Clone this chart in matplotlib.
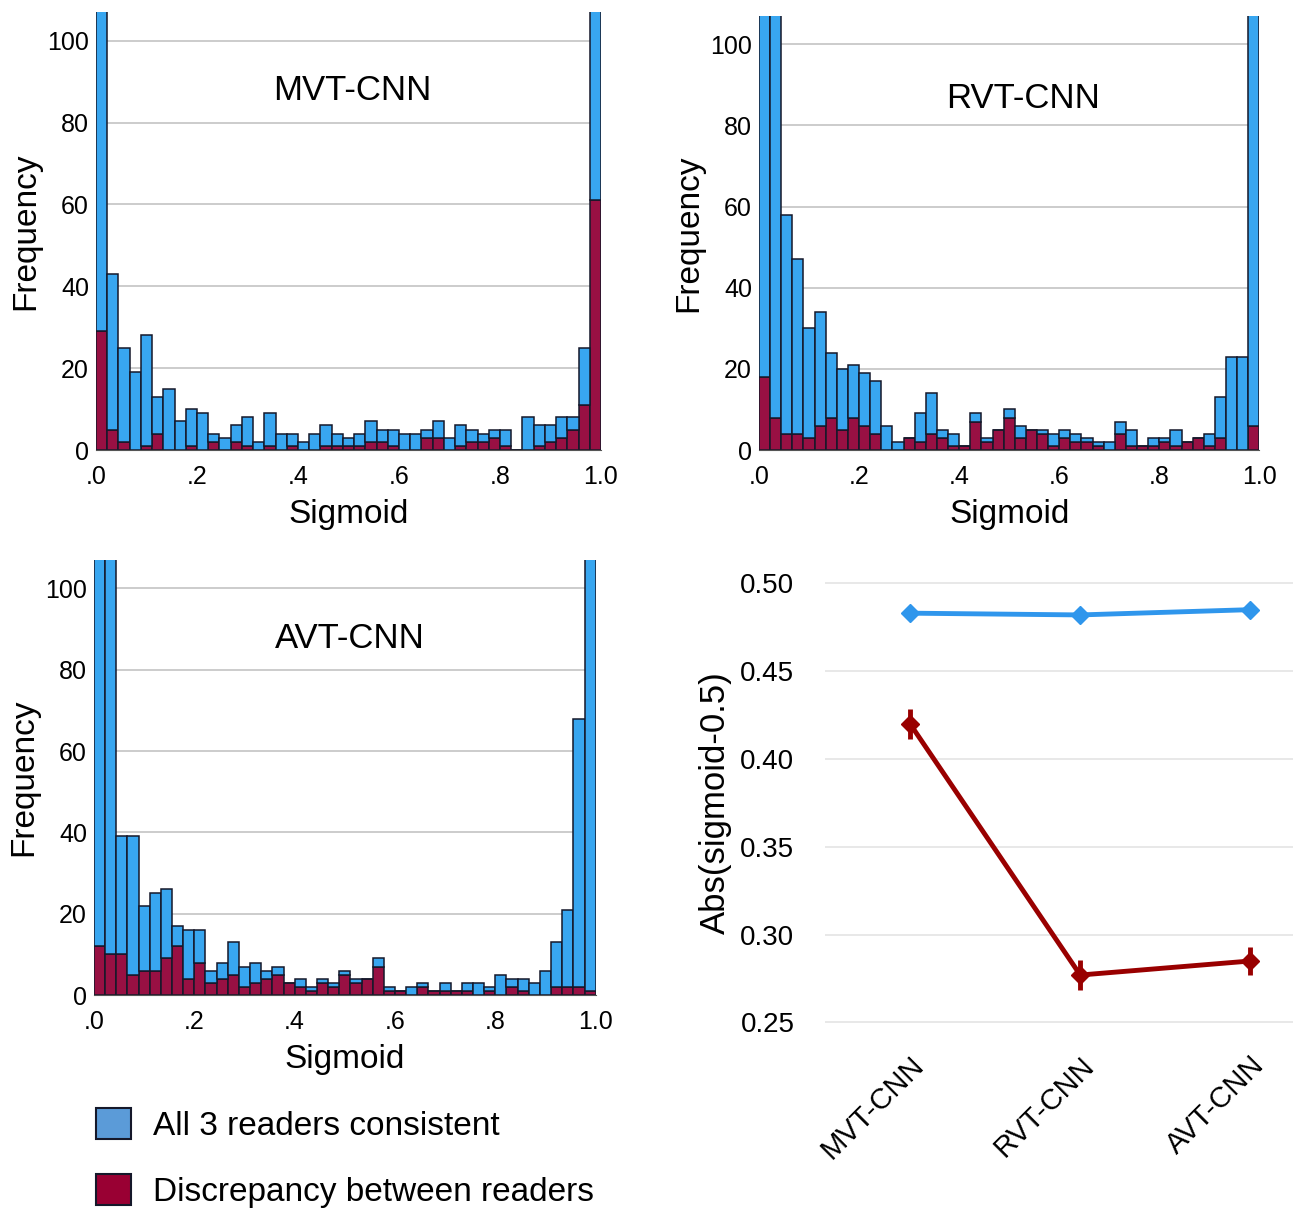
import numpy as np
import matplotlib
matplotlib.use("Agg")
import matplotlib.pyplot as plt
from matplotlib.patches import Patch

plt.rcParams['font.family'] = ['Liberation Sans', 'DejaVu Sans']

# histogram counts per bin (45 bins over 0..1): total height and discrepancy part
mvt_total = [150, 43, 25, 19, 28, 13, 15, 7, 10, 9,
             4, 3, 6, 8, 2, 9, 4, 4, 2, 4,
             6, 4, 3, 4, 7, 5, 5, 4, 4, 5,
             7, 3, 6, 5, 4, 5, 5, 0, 8, 6,
             6, 8, 8, 25, 200]
mvt_disc = [29, 5, 2, 0, 1, 4, 0, 0, 1, 0,
            2, 0, 2, 1, 0, 1, 0, 1, 0, 0,
            1, 1, 1, 1, 2, 2, 1, 0, 0, 3,
            3, 0, 1, 2, 2, 3, 1, 0, 0, 1,
            2, 3, 5, 11, 61]

rvt_total = [160, 120, 58, 47, 30, 34, 24, 20, 21, 19,
             17, 6, 2, 3, 9, 14, 5, 4, 1, 9,
             3, 5, 10, 6, 5, 5, 4, 5, 4, 3,
             2, 2, 7, 5, 1, 3, 3, 5, 2, 3,
             4, 13, 23, 23, 200]
rvt_disc = [18, 8, 4, 4, 3, 6, 8, 5, 8, 6,
            4, 0, 0, 3, 2, 4, 3, 1, 1, 7,
            2, 5, 8, 3, 5, 4, 1, 3, 2, 2,
            1, 0, 4, 1, 1, 1, 2, 1, 2, 3,
            1, 3, 0, 0, 6]

avt_total = [200, 150, 39, 39, 22, 25, 26, 17, 16, 16,
             6, 8, 13, 7, 8, 6, 7, 3, 4, 2,
             4, 3, 6, 4, 4, 9, 2, 1, 2, 3,
             1, 3, 1, 3, 3, 2, 5, 4, 4, 3,
             6, 13, 21, 68, 200]
avt_disc = [12, 10, 10, 5, 6, 6, 9, 12, 4, 8,
            3, 4, 5, 2, 3, 4, 5, 3, 2, 1,
            3, 2, 5, 3, 4, 7, 1, 1, 0, 2,
            1, 1, 1, 1, 0, 1, 0, 2, 1, 0,
            0, 2, 2, 2, 1]

# line chart: mean abs(sigmoid-0.5) with error
models = ["MVT-CNN", "RVT-CNN", "AVT-CNN"]
consistent_mean = [0.483, 0.482, 0.485]
discrepancy_mean = [0.420, 0.277, 0.285]
discrepancy_err = [0.0086, 0.0086, 0.008]

blue = "#38a6f0"
red = "#981043"
edge = "#15182a"

fig = plt.figure(figsize=(12.93, 12.13), dpi=100)


def histo(rect, total, disc, title, title_pos):
    ax = fig.add_axes(rect)
    total = np.array(total)
    disc = np.array(disc)
    edges = np.linspace(0, 1, len(total) + 1)
    w = edges[1] - edges[0]
    ax.bar(edges[:-1], disc, width=w, align='edge', color=red,
           edgecolor=edge, linewidth=1.1, zorder=2)
    ax.bar(edges[:-1], total - disc, bottom=disc, width=w, align='edge',
           color=blue, edgecolor=edge, linewidth=1.1, zorder=2)
    ax.set_xlim(0, 1)
    ax.set_ylim(0, 107)
    ax.set_yticks([0, 20, 40, 60, 80, 100])
    ax.set_xticks([0, 0.2, 0.4, 0.6, 0.8, 1.0])
    ax.set_xticklabels([".0", ".2", ".4", ".6", ".8", "1.0"])
    ax.tick_params(length=0, labelsize=18)
    ax.tick_params(axis='y', pad=5)
    ax.tick_params(axis='x', pad=11)
    ax.yaxis.grid(True, color="#c4c4c4", linewidth=1.2, zorder=0)
    ax.set_axisbelow(True)
    for s in ["top", "right", "left"]:
        ax.spines[s].set_visible(False)
    ax.spines["bottom"].set_color("#555555")
    ax.set_ylabel("Frequency", fontsize=24, labelpad=4)
    ax.set_xlabel("Sigmoid", fontsize=24, labelpad=7)
    ax.text(title_pos[0], title_pos[1], title, transform=ax.transAxes,
            ha='center', va='center', fontsize=25)
    return ax


histo([0.0742, 0.629, 0.3906, 0.361], mvt_total, mvt_disc, "MVT-CNN", (0.507, 0.82))
histo([0.587, 0.629, 0.387, 0.358], rvt_total, rvt_disc, "RVT-CNN", (0.528, 0.81))
histo([0.0727, 0.1797, 0.388, 0.3586], avt_total, avt_disc, "AVT-CNN", (0.51, 0.82))

# line chart
ax = fig.add_axes([0.638, 0.1426, 0.362, 0.391])
x = np.arange(len(models))
ax.plot(x, consistent_mean, color="#2f96ec", linewidth=3.5, marker="D",
        markersize=9, zorder=3)
ax.errorbar(x, discrepancy_mean, yerr=discrepancy_err, color="#990000",
            linewidth=3.5, marker="D", markersize=9, elinewidth=3.5,
            capsize=0, zorder=3)
ax.set_xlim(-0.5, 2.25)
ax.set_ylim(0.24, 0.51)
ax.set_yticks([0.25, 0.30, 0.35, 0.40, 0.45, 0.50])
ax.set_yticklabels(["0.25", "0.30", "0.35", "0.40", "0.45", "0.50"])
ax.set_xticks(x)
ax.set_xticklabels(models, rotation=45, ha='right', rotation_mode='anchor')
ax.tick_params(length=0, labelsize=20)
ax.tick_params(axis='y', pad=22)
ax.tick_params(axis='x', labelsize=21, pad=8)
ax.yaxis.grid(True, color="#e4e4e4", linewidth=1.2, zorder=0)
for s in ax.spines.values():
    s.set_visible(False)
ax.set_ylabel("Abs(sigmoid-0.5)", fontsize=25, labelpad=6)

# legend
handles = [Patch(facecolor="#5b9bd8", edgecolor=edge, linewidth=1.5, label="All 3 readers consistent"),
           Patch(facecolor="#990033", edgecolor=edge, linewidth=1.5, label="Discrepancy between readers")]
fig.legend(handles=handles, loc='lower left', bbox_to_anchor=(0.059, -0.012),
           frameon=False, fontsize=24, handlelength=1.05, handleheight=1.05,
           handletextpad=0.65, labelspacing=0.95, borderpad=0.1)

fig.savefig("out.png", dpi=100)
